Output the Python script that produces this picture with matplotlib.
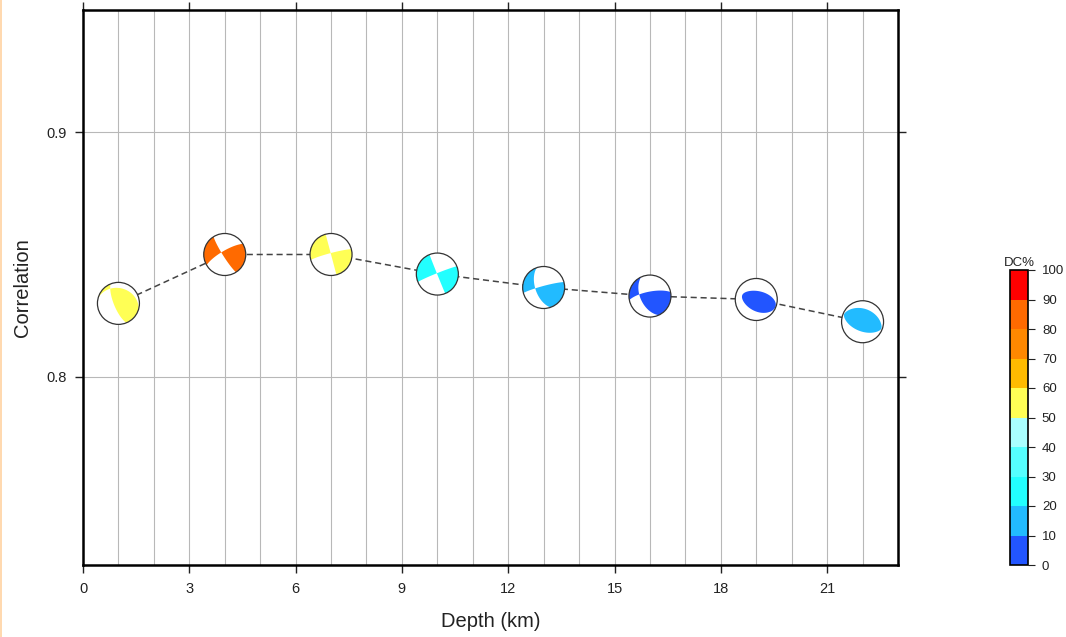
import numpy as np
import matplotlib
matplotlib.use("Agg")
import matplotlib.pyplot as plt
from matplotlib import transforms
from matplotlib.colors import ListedColormap, BoundaryNorm
from matplotlib.patches import Circle, Rectangle
import matplotlib as mpl

plt.rcParams['font.family'] = ['Liberation Sans', 'DejaVu Sans']

# ---------------- data ----------------
depth = [1, 4, 7, 10, 13, 16, 19, 22]
correlation = [0.830, 0.850, 0.850, 0.842, 0.8365, 0.833, 0.8316, 0.8225]
dc_percent = [55, 85, 55, 25, 15, 5, 5, 15]
# principal axes of the moment tensors (trend, plunge in degrees)
t_trend = [97, 103, 120, 113, 123, 124, 128, 21]
t_plunge = [57, 15, 4, 3, 27, 40, 75, 83]
p_trend = [231, 193, 210, 203, 24, 23, 20, 201]
p_plunge = [24, 5, 4, 2, 18, 13, 5, 7]
# eigenvalues on the B and P axes (T axis eigenvalue = 1)
b_eigen = [0.0, 0.0, 0.0, 0.0, 0.0, 0.0, -0.09, -0.01]
p_eigen = [-1.0, -1.0, -1.0, -1.0, -1.0, -1.0, -1.42, -1.01]

dc_bounds = list(range(0, 101, 10))
dc_colors = ['#2255ff', '#22bbff', '#22ffff', '#55ffff', '#aaffff',
             '#ffff55', '#ffbb00', '#ff8800', '#ff6a00', '#ff0000']
x_ticks = list(range(0, 24, 3))
y_ticks = [0.8, 0.9]

# ---------------- figure ----------------
W, H = 1066, 637
fig = plt.figure(figsize=(W / 100, H / 100), dpi=100)
ax = fig.add_axes([83 / W, 1 - 565 / H, (898 - 83) / W, (565 - 10) / H])
ax.set_xlim(0, 23)
ax.set_ylim(0.723, 0.950)
ax.set_autoscale_on(False)

ax.set_xticks(x_ticks)
ax.set_xticks(range(0, 24), minor=True)
ax.set_yticks(y_ticks)
ax.set_yticklabels([f"{v:.1f}" for v in y_ticks])
ax.tick_params(which='major', direction='out', length=6, width=1.0,
               top=True, right=True, labelsize=10.5, pad=6, colors='#222222')
ax.tick_params(which='minor', length=0, top=True, right=True)
ax.grid(True, which='both', axis='x', color='#b8b8b8', lw=0.8, zorder=0)
ax.grid(True, which='major', axis='y', color='#b8b8b8', lw=0.8, zorder=0)
for s in ax.spines.values():
    s.set_linewidth(1.8)
    s.set_color('black')
ax.set_xlabel('Depth (km)', fontsize=14.5, labelpad=12, color='#222222')
ax.set_ylabel('Correlation', fontsize=14.5, labelpad=10, color='#222222')

ax.plot(depth, correlation, ls=(0, (4, 2.5)), color='#444444', lw=1.1, zorder=2)

cmap = ListedColormap(dc_colors)
norm = BoundaryNorm(dc_bounds, cmap.N)


def axis_vec(trend, plunge):
    t, p = np.radians(trend), np.radians(plunge)
    return np.array([np.cos(p) * np.cos(t), np.cos(p) * np.sin(t), np.sin(p)])


n_grid = 401
g = np.linspace(-1.05, 1.05, n_grid)
GX, GY = np.meshgrid(g, g)          # GX east, GY north
rho = np.minimum(np.hypot(GX, GY), 1.0)
az = np.arctan2(GX, GY)
inc = 2 * np.arcsin(rho / np.sqrt(2))   # equal-area, lower hemisphere
nvec = np.stack([np.sin(inc) * np.cos(az), np.sin(inc) * np.sin(az), np.cos(inc)])

R_IN = 0.21
for i in range(len(depth)):
    t = axis_vec(t_trend[i], t_plunge[i])
    p = axis_vec(p_trend[i], p_plunge[i])
    p = p - (p @ t) * t
    p /= np.linalg.norm(p)
    b = np.cross(t, p)
    M = np.outer(t, t) + b_eigen[i] * np.outer(b, b) + p_eigen[i] * np.outer(p, p)
    amp = np.einsum('iab,ij,jab->ab', nvec, M, nvec)

    trans = (transforms.Affine2D().scale(R_IN) + fig.dpi_scale_trans +
             transforms.ScaledTranslation(depth[i], correlation[i], ax.transData))
    bg = Circle((0, 0), 1.0, transform=trans, facecolor='white',
                edgecolor='none', zorder=3)
    ax.add_patch(bg)
    col = cmap(norm(dc_percent[i]))
    cs = ax.contourf(GX, GY, amp, levels=[0, np.abs(amp).max() + 1],
                     colors=[col], transform=trans, zorder=4, antialiased=True)
    cs.set_clip_path(bg)
    ax.add_patch(Circle((0, 0), 1.0, transform=trans, facecolor='none',
                        edgecolor='#333333', lw=0.9, zorder=5))

# ---------------- colorbar ----------------
cax = fig.add_axes([1010 / W, 1 - 565 / H, 18 / W, 295 / H])
cb = mpl.colorbar.ColorbarBase(cax, cmap=cmap, norm=norm, boundaries=dc_bounds,
                               ticks=dc_bounds, orientation='vertical')
cb.outline.set_linewidth(1.2)
cb.outline.set_edgecolor('black')
cax.tick_params(direction='out', length=5, width=0.8, labelsize=9.5, pad=5,
                colors='#222222')
cax.set_title('DC%', fontsize=9.5, pad=3, color='#222222')

# faint left border line of the picture
fig.add_artist(Rectangle((0, 0), 2 / W, 1, transform=fig.transFigure,
                         facecolor='#ffd9b0', edgecolor='none'))

fig.savefig('out.png', dpi=100)
